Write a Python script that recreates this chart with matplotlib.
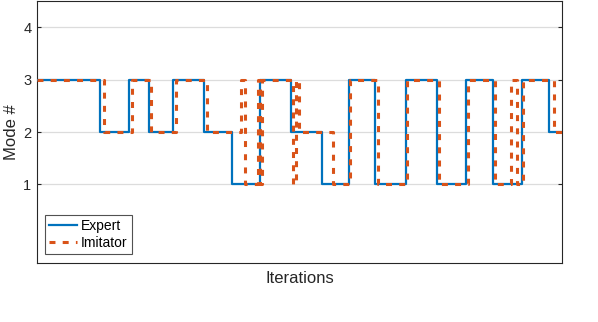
import matplotlib
matplotlib.use("Agg")
import matplotlib.pyplot as plt
import numpy as np

plt.rcParams['font.family'] = ['Liberation Sans', 'DejaVu Sans']
plt.rcParams['lines.scale_dashes'] = False

# Iteration at which each mode switch happens (x runs from 0 to 100)
expert_switch = [12.0, 17.5, 21.3, 25.9, 31.8, 37.1, 42.5, 48.4, 54.3, 59.4,
                 64.4, 70.3, 76.2, 81.7, 86.8, 92.3, 97.5]
expert_mode = [3, 2, 3, 2, 3, 2, 1, 3, 2, 1, 3, 1, 3, 1, 3, 1, 3, 2]

imitator_switch = [12.8, 18.1, 21.8, 26.5, 32.4, 38.8, 39.6, 42.0, 42.4, 42.8,
                   48.7, 49.4, 49.9, 56.4, 59.6, 64.9, 70.5, 76.6, 82.0, 87.3,
                   90.3, 91.4, 92.6, 98.5]
imitator_mode = [3, 2, 3, 2, 3, 2, 3, 1, 3, 1, 3, 1, 3, 2, 1, 3, 1, 3, 1, 3,
                 1, 3, 1, 3, 2]

x_start, x_end = 0, 100
y_ticks = [1, 2, 3, 4]

def steps(switch, mode):
    xs = [x_start] + list(switch) + [x_end]
    ys = list(mode) + [mode[-1]]
    return xs, ys

fig = plt.figure(figsize=(5.98, 3.22), dpi=100)
ax = fig.add_axes([37/598, 1 - 263/322, 525/598, 262/322])

ex, ey = steps(expert_switch, expert_mode)
ix, iy = steps(imitator_switch, imitator_mode)

ax.plot(ex, ey, drawstyle='steps-post', color='#0072BD', lw=1.6, label='Expert', zorder=3)
ax.plot(ix, iy, drawstyle='steps-post', color='#D95319', lw=2.2, ls=(0, (4.3, 5.2)),
        label='Imitator', zorder=4)

ax.set_xlim(x_start, x_end)
ax.set_ylim(-0.5, 4.5)
ax.set_yticks(y_ticks)
ax.set_xticks([])
ax.grid(axis='y', color='#dcdcdc', lw=0.9, zorder=0)
ax.set_axisbelow(True)
ax.tick_params(axis='y', direction='in', length=3, color='#262626', labelsize=10.5,
               labelcolor='#262626', right=True, pad=4)
for s in ax.spines.values():
    s.set_color('#262626')
    s.set_linewidth(0.8)

ax.set_ylabel('Mode #', fontsize=12, color='#262626', labelpad=3)
ax.set_xlabel('Iterations', fontsize=12, color='#262626', labelpad=6)

leg = ax.legend(loc='lower left', bbox_to_anchor=(8/525, 9/262), fontsize=10,
                frameon=True, fancybox=False, edgecolor='#262626', handlelength=2.0,
                handletextpad=0.3, borderpad=0.3, labelspacing=0.2, borderaxespad=0)
leg.get_frame().set_linewidth(0.8)

fig.savefig('out.png', dpi=100)
